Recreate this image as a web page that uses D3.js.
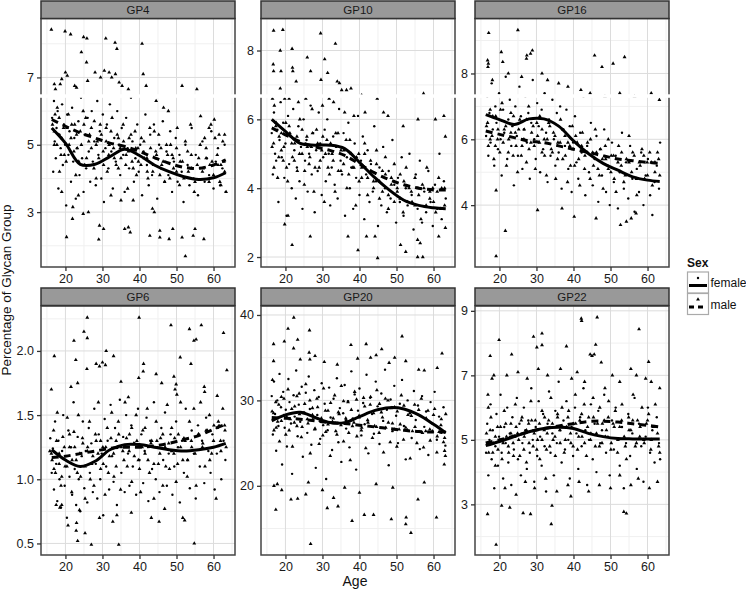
<!DOCTYPE html>
<html><head><meta charset="utf-8">
<script src="https://cdn.jsdelivr.net/npm/d3@7"></script>
<style>body{margin:0;background:#fff}svg{display:block}text{font-family:"Liberation Sans",Arial,sans-serif}</style>
</head><body><svg id="c" width="746" height="589"></svg>
<script>
// ---------- data ----------
const facets = ["GP4","GP10","GP16","GP6","GP20","GP22"];
const xTicks = [20,30,40,50,60];
const xMinor = [15,25,35,45,55,65];
const yTicks = {GP4:[3,5,7],GP10:[2,4,6,8],GP16:[4,6,8],GP6:[0.5,1.0,1.5,2.0],GP20:[20,30,40],GP22:[3,5,7,9]};
const yMinor = {GP4:[2,4,6,8],GP10:[3,5,7],GP16:[3,5,7,9],GP6:[0.75,1.25,1.75,2.25],GP20:[15,25,35],GP22:[2,4,6,8]};
const yFormat = {GP4:"d",GP10:"d",GP16:"d",GP6:".1f",GP20:"d",GP22:"d"};
const yDomain = {GP4:[1.37,8.75],GP10:[1.71,8.93],GP16:[2.12,9.67],GP6:[0.41,2.35],GP20:[11.9,41.05],GP22:[1.43,9.15]};
const xDomain = [13.4,65.8];

const smoothAges = [16.3,20,24,28,32,36,40,44,48,52,56,60,63.3];
const smoothFemale = {
 GP4:[5.5,5.05,4.42,4.42,4.65,4.87,4.68,4.4,4.2,4.05,3.97,4.02,4.17],
 GP10:[6.0,5.65,5.3,5.25,5.25,5.15,4.75,4.32,3.95,3.65,3.5,3.43,3.4],
 GP16:[6.75,6.6,6.45,6.62,6.62,6.4,5.95,5.57,5.27,5.06,4.86,4.76,4.72],
 GP6:[1.23,1.15,1.1,1.14,1.23,1.27,1.27,1.25,1.23,1.22,1.23,1.25,1.28],
 GP20:[27.6,28.3,28.6,28.0,27.4,27.4,28.1,28.8,29.15,29.0,28.3,27.2,26.2],
 GP22:[4.82,4.95,5.1,5.25,5.35,5.39,5.35,5.2,5.1,5.04,5.03,5.03,5.03]
};
const smoothMale = {
 GP4:[5.75,5.55,5.35,5.2,5.05,4.95,4.8,4.62,4.45,4.33,4.3,4.4,4.55],
 GP10:[5.75,5.55,5.35,5.2,5.1,4.95,4.7,4.45,4.25,4.1,4.0,3.95,3.95],
 GP16:[6.25,6.15,6.05,5.95,5.9,5.8,5.7,5.6,5.5,5.4,5.35,5.3,5.27],
 GP6:[1.17,1.18,1.2,1.22,1.24,1.25,1.25,1.26,1.28,1.31,1.34,1.39,1.43],
 GP20:[28.0,27.9,27.8,27.6,27.4,27.3,27.1,26.9,26.7,26.5,26.35,26.3,26.3],
 GP22:[4.9,5.0,5.12,5.25,5.35,5.43,5.5,5.57,5.58,5.55,5.5,5.45,5.4]
};

// points as flat [age, value, age, value, ...]
const gp4Female = [16.4,5.8,16.7,4.2,16.9,6.3,17.1,5.1,17.4,4.6,17.6,5.5,17.9,6.0,18.1,3.7,18.4,5.3,18.7,4.9,19.1,6.2,19.3,4.4,19.6,5.6,19.9,5.0,20.2,3.2,20.5,5.9,20.8,4.7,21.1,5.4,21.5,3.9,21.8,6.1,22.1,4.5,22.4,5.2,22.8,3.4,23.1,4.9,23.5,5.7,23.8,4.1,24.2,6.4,24.5,4.6,24.9,3.6,25.2,5.3,25.6,4.3,26.0,5.8,26.3,4.8,26.7,3.9,27.1,6.0,27.4,4.5,27.8,5.1,28.2,3.8,28.6,6.3,28.9,4.7,29.3,5.4,29.7,4.0,30.1,5.9,30.4,3.3,30.8,4.9,31.2,5.6,31.6,4.3,32.0,6.2,32.4,4.8,32.8,3.7,33.2,5.2,33.6,4.5,34.0,6.0,34.4,5.0,34.8,4.1,35.2,5.5,35.6,4.7,36.0,3.6,36.4,5.8,36.8,4.9,37.2,4.3,37.7,6.4,38.1,5.1,38.5,3.9,38.9,4.6,39.4,5.6,39.8,4.2,40.2,5.0,40.7,3.5,41.1,4.8,41.6,5.9,42.0,4.4,42.5,3.8,42.9,5.3,43.4,4.1,43.9,5.6,44.3,4.6,44.8,3.4,45.3,5.0,45.8,4.3,46.3,5.7,46.8,3.9,47.3,4.8,47.8,4.1,48.3,5.4,48.8,3.6,49.3,4.5,49.8,5.2,50.3,3.9,50.8,4.7,51.4,4.2,51.9,3.3,52.4,5.0,53.0,4.4,53.5,3.8,54.1,5.5,54.6,4.0,55.2,4.7,55.8,3.5,56.4,4.3,57.0,5.1,57.6,3.9,58.2,4.6,58.8,4.1,59.4,5.4,60.0,3.7,60.6,4.5,61.2,4.9,61.8,3.8,62.4,4.3,63.0,5.0,63.3,3.6];
const gp4Male = [16.2,8.42,19.9,8.37,21.4,8.28,24.9,8.2,25.8,8.16,30.9,8.16,33.4,8.03,33.9,7.85,40.7,8.0,24.3,7.75,25.7,7.45,20.0,7.15,20.5,7.05,19.0,6.95,17.0,6.8,17.3,6.65,18.6,6.8,22.5,6.75,23.0,6.7,26.0,6.9,28.0,7.15,29.5,7.0,30.5,7.2,31.8,7.15,32.5,7.0,33.5,7.1,34.5,6.85,35.3,6.75,37.0,6.65,41.0,7.1,41.8,6.75,51.5,6.75,55.5,6.65,44.5,6.3,46.5,6.1,47.8,6.0,56.5,5.85,60.2,5.75,58.8,5.5,61.5,5.3,63.0,5.3,62.5,5.1,20.3,2.26,21.9,2.8,29.0,2.19,29.2,2.6,30.3,2.5,36.0,2.5,37.0,2.55,37.5,2.4,42.8,2.3,45.5,2.45,45.5,2.25,48.0,2.2,52.4,1.69,51.5,2.25,57.4,2.2,54.5,2.3,55.0,2.5,49.0,2.5,43.5,3.1,44.0,3.0,38.3,3.35,35.0,3.35,32.3,3.5,26.2,3.0,24.8,2.95,22.0,3.15,19.0,3.6,23.5,3.5,16.5,5.6,17.2,5.9,17.8,6.1,18.2,5.3,18.8,4.7,19.5,5.5,20.8,5.9,21.5,5.2,22.5,5.6,23.2,4.9,24.0,5.4,24.8,6.0,25.5,5.8,26.5,5.3,27.0,4.9,27.8,5.7,28.6,5.1,29.4,5.6,30.2,4.8,31.0,5.5,31.8,5.0,32.6,5.8,33.2,4.6,34.0,5.3,34.8,4.9,35.6,5.6,36.4,4.7,37.2,5.2,38.0,4.5,38.8,5.4,39.6,4.9,40.4,4.4,41.2,5.1,42.0,4.6,42.8,5.5,43.6,4.2,44.4,4.8,45.2,5.3,46.0,4.4,46.8,3.9,47.6,4.7,48.4,5.0,49.2,4.3,50.0,4.9,50.8,3.8,51.6,4.5,52.4,5.1,53.2,4.2,54.0,4.7,54.8,3.6,55.6,4.4,56.4,5.0,57.2,4.3,58.0,4.6,58.8,3.9,59.6,4.5,60.4,5.2,61.2,4.4,62.0,3.8,62.8,4.5,63.4,3.6,61.7,3.9,59.3,5.6,57.6,5.2,53.8,5.6,50.2,5.5,48.8,4.7,45.8,4.9,44.0,5.4,42.3,4.0,39.2,4.1,36.8,3.7,34.3,4.3,31.3,4.2,28.3,4.0,25.2,4.4,22.8,4.1,20.2,4.5,18.4,4.2,17.0,5.0];
const gp4MaleCore = [17.0,5.4,17.7,5.0,18.3,5.8,19.0,5.2,19.7,4.7,20.4,5.5,21.0,5.0,21.7,5.6,22.3,4.8,23.0,5.3,23.6,4.5,24.3,5.0,25.0,5.6,25.7,4.6,26.3,5.1,27.0,5.5,27.7,4.3,28.3,5.0,29.0,4.6,29.7,5.3,30.3,4.4,31.0,5.1,31.7,4.7,32.3,5.4,33.0,4.9,33.7,4.4,34.3,5.2,35.0,4.6,35.7,5.1,36.3,4.4,37.0,4.8,37.7,5.3,38.3,4.3,39.0,4.9,39.7,4.5,40.5,5.2,41.3,4.6,42.1,4.2,43.0,4.9,43.8,4.4,44.6,4.7,45.5,4.1,46.4,4.5,47.3,5.0,48.2,4.0,49.1,4.6,50.0,4.2,51.0,4.5,52.0,4.0,53.0,4.8,54.0,4.3,55.0,3.9,56.0,4.6,57.0,4.2,58.0,4.9,59.0,4.4,60.0,4.1,61.0,4.7,62.0,4.4,63.0,4.2];
const gp10Female = [16.3,5.6,16.6,4.4,16.9,6.2,17.2,5.0,17.5,4.8,17.8,5.7,18.1,3.6,18.4,5.4,18.7,6.5,19.0,4.9,19.4,5.9,19.7,4.3,20.0,5.3,20.3,3.2,20.7,6.1,21.0,4.7,21.4,5.5,21.7,4.0,22.1,6.3,22.4,5.1,22.8,3.7,23.1,4.6,23.5,5.8,23.8,4.2,24.2,5.2,24.6,3.4,24.9,6.0,25.3,4.8,25.7,5.4,26.0,3.9,26.4,5.0,26.8,6.4,27.1,4.4,27.5,5.6,27.9,3.3,28.3,5.1,28.7,4.5,29.0,6.2,29.4,5.3,29.8,3.8,30.2,4.9,30.6,5.7,30.9,4.2,31.3,6.0,31.7,5.0,32.1,3.5,32.5,4.6,32.9,5.5,33.3,4.1,33.7,5.2,34.1,3.7,34.5,6.3,34.9,4.8,35.3,4.4,35.7,5.6,36.1,3.2,36.6,4.9,37.0,5.9,37.4,4.0,37.8,4.6,38.3,3.4,38.7,5.3,39.1,4.3,39.6,6.1,40.0,3.8,40.4,4.8,40.9,5.5,41.3,3.1,41.8,4.4,42.2,5.1,42.7,3.6,43.1,4.7,43.6,3.9,44.0,5.8,44.5,4.2,45.0,2.9,45.4,4.6,45.9,3.5,46.4,5.2,46.9,4.0,47.4,3.3,47.9,4.5,48.4,3.7,48.9,5.4,49.4,4.1,49.9,3.0,50.4,4.3,50.9,3.6,51.4,4.9,51.9,3.2,52.5,4.0,53.0,3.5,53.5,5.0,54.1,3.8,54.6,2.8,55.2,4.4,55.7,3.4,56.3,4.8,56.9,3.0,57.5,3.9,58.0,3.3,58.6,4.5,59.2,3.6,59.8,2.9,60.4,4.1,61.0,3.4,61.6,5.0,62.2,3.1,62.8,4.2,63.3,3.7];
const gp10Male = [16.8,8.58,19.3,8.6,18.6,8.0,21.8,8.05,29.5,8.5,33.5,8.2,16.7,7.6,16.8,7.4,18.8,7.4,21.9,7.5,22.0,7.4,25.9,7.8,26.8,7.4,30.6,7.75,31.4,7.35,29.6,7.15,22.9,7.1,34.0,7.1,34.6,7.05,35.2,6.85,36.5,6.85,37.7,6.9,18.6,6.9,40.6,6.7,57.3,6.75,16.5,6.6,17.0,6.4,19.8,6.6,21.0,6.6,23.5,6.5,25.5,6.6,27.2,6.3,30.0,6.4,31.8,6.6,33.0,6.5,36.0,6.2,38.5,6.1,41.5,6.2,44.8,6.6,46.5,6.2,47.7,6.1,51.8,5.8,55.8,6.0,60.5,6.0,62.8,6.1,63.2,5.5,21.8,2.35,19.8,2.95,20.7,3.2,26.7,2.6,36.9,2.6,39.6,2.2,44.9,1.97,41.9,2.6,44.2,2.6,51.1,2.35,52.5,2.15,55.7,2.5,56.4,2.4,55.7,2.0,57.1,2.0,61.4,2.6,63.2,2.85,16.4,5.2,16.9,4.6,17.4,5.8,17.9,4.3,18.3,5.5,18.9,5.1,19.4,4.8,20.1,5.9,20.6,4.2,21.2,5.6,21.9,4.9,22.5,5.3,23.2,4.5,23.9,6.0,24.5,5.0,25.1,4.1,25.8,5.5,26.4,4.7,27.0,5.2,27.7,3.9,28.4,5.7,29.1,4.6,29.8,5.1,30.5,3.6,31.2,5.4,31.9,4.4,32.6,5.0,33.4,3.9,34.2,5.6,35.0,4.5,35.8,5.1,36.6,4.0,37.4,5.4,38.2,4.6,39.0,3.5,39.8,5.0,40.6,4.3,41.4,5.3,42.2,3.8,43.0,4.8,43.8,4.2,44.6,5.1,45.4,3.7,46.2,4.5,47.0,4.9,47.8,3.4,48.6,4.3,49.4,4.7,50.2,3.9,51.0,4.4,51.8,3.3,52.6,4.6,53.4,4.0,54.2,3.6,55.0,4.3,55.8,4.0,56.6,3.1,57.4,4.0,58.2,4.6,59.0,3.7,59.8,4.0,60.6,3.3,61.4,4.3,62.2,4.0,63.0,3.5];
const gp10MaleCore = [16.8,5.3,17.5,5.9,18.2,4.9,18.9,5.6,19.6,5.2,20.3,4.6,21.0,5.8,21.7,5.3,22.4,4.8,23.1,5.5,23.8,5.0,24.5,5.7,25.2,4.5,25.9,5.2,26.6,4.9,27.3,5.6,28.0,4.6,28.7,5.3,29.4,4.8,30.1,5.5,30.8,5.0,31.5,4.6,32.2,5.3,32.9,4.8,33.6,5.6,34.3,4.5,35.0,5.1,35.7,4.7,36.4,5.4,37.1,4.4,37.8,5.0,38.5,4.6,39.2,4.9,39.9,4.2,40.6,4.6,41.4,5.0,42.2,4.3,43.0,4.5,43.8,4.0,44.6,4.7,45.4,4.2,46.2,3.9,47.0,4.4,47.8,3.8,48.6,4.1,49.4,3.6,50.2,4.0,51.0,3.7,52.0,4.2,53.0,3.6,54.0,3.9,55.0,3.5,56.0,3.8,57.0,4.1,58.0,3.5,59.0,3.9,60.0,3.6,61.0,3.9,62.0,3.4,63.0,4.0];
const gp16Female = [16.4,6.1,16.7,7.3,17.0,5.5,17.3,6.8,17.6,5.9,17.9,7.7,18.2,6.3,18.6,5.2,18.9,7.0,19.2,6.5,19.6,5.7,19.9,7.4,20.3,6.0,20.6,4.9,21.0,6.9,21.3,6.2,21.7,7.9,22.1,5.4,22.4,6.6,22.8,7.2,23.2,5.8,23.5,6.4,23.9,4.6,24.3,7.0,24.7,6.1,25.0,5.5,25.4,7.6,25.8,6.7,26.2,5.1,26.6,6.3,27.0,7.3,27.4,5.9,27.8,6.8,28.2,4.8,28.6,6.5,29.0,7.8,29.4,6.0,29.8,5.4,30.2,7.1,30.6,6.4,31.0,5.0,31.4,6.9,31.8,5.7,32.2,7.4,32.6,6.2,33.0,4.7,33.4,6.6,33.8,5.5,34.3,7.2,34.7,6.0,35.1,5.2,35.5,6.8,36.0,5.6,36.4,7.0,36.8,4.5,37.3,6.3,37.7,5.8,38.1,6.9,38.6,5.1,39.0,6.4,39.5,4.4,39.9,5.9,40.4,6.7,40.8,5.3,41.3,4.8,41.8,6.2,42.2,5.6,42.7,7.3,43.2,4.3,43.7,5.8,44.2,5.0,44.7,6.5,45.2,4.6,45.7,5.4,46.2,6.1,46.7,4.1,47.2,5.7,47.7,4.9,48.3,6.3,48.8,4.4,49.3,5.2,49.8,4.0,50.4,5.9,50.9,4.7,51.4,5.5,52.0,3.9,52.5,5.0,53.1,6.2,53.6,4.5,54.2,5.3,54.8,4.2,55.3,5.8,55.9,4.8,56.5,3.8,57.1,5.1,57.7,4.4,58.3,5.6,58.9,4.0,59.5,4.9,60.1,5.4,60.7,4.3,61.3,3.7,61.9,4.7,62.5,5.2,63.1,4.5,63.4,5.9];
const gp16Male = [17.1,9.23,24.98,9.32,27.4,8.55,27.3,8.45,28.9,8.7,28.4,8.6,20.5,8.65,20.9,8.35,45.7,8.55,50.7,8.3,47.7,8.2,53.8,8.5,16.8,8.4,17.0,8.3,16.9,8.2,18.1,7.8,22.4,8.0,26.0,7.9,31.5,8.0,33.0,7.8,36.0,7.7,38.5,7.6,42.0,7.5,44.5,7.4,48.5,7.3,52.5,7.4,56.5,7.3,61.0,7.4,63.2,7.2,21.6,3.22,19.1,2.45,52.7,3.4,46.1,3.6,40.2,3.65,54.3,3.5,55.6,3.6,56.9,3.75,30.3,3.85,36.9,3.9,19.1,4.45,16.5,6.4,17.0,5.8,17.5,6.9,18.0,6.1,18.5,5.4,19.0,6.7,19.5,6.0,20.1,5.6,20.7,7.1,21.3,6.3,21.9,5.2,22.5,6.0,23.1,6.8,23.7,5.5,24.3,6.2,24.9,5.0,25.5,6.6,26.1,5.8,26.7,6.3,27.3,5.3,27.9,7.0,28.5,5.9,29.1,6.4,29.7,5.1,30.3,6.1,30.9,6.7,31.5,5.6,32.1,6.0,32.7,4.9,33.3,6.5,34.0,5.7,34.6,6.2,35.2,4.8,35.8,5.9,36.5,6.6,37.1,5.4,37.7,6.1,38.4,4.7,39.0,5.8,39.7,6.4,40.3,5.2,41.0,5.9,41.7,4.6,42.4,6.2,43.1,5.5,43.8,5.9,44.5,4.8,45.2,5.6,45.9,6.3,46.6,5.1,47.3,5.7,48.0,4.5,48.7,5.4,49.4,6.0,50.1,5.0,50.8,5.5,51.5,4.4,52.2,5.8,52.9,5.2,53.6,4.7,54.3,5.4,55.0,6.1,55.7,5.0,56.4,5.5,57.1,4.3,57.8,5.3,58.5,5.7,59.2,4.8,59.9,5.3,60.6,5.6,61.3,4.6,62.0,5.3,62.7,5.6,63.3,4.9];
const gp16MaleCore = [16.8,6.5,17.5,6.0,18.2,6.7,18.9,5.8,19.6,6.3,20.3,6.9,21.0,5.9,21.7,6.4,22.4,5.6,23.1,6.2,23.8,6.7,24.5,5.8,25.2,6.3,25.9,5.5,26.6,6.0,27.3,6.6,28.0,5.7,28.7,6.2,29.4,5.8,30.1,6.5,30.8,5.9,31.5,6.3,32.2,5.5,32.9,6.0,33.6,6.4,34.3,5.6,35.0,6.1,35.7,5.4,36.4,5.9,37.1,6.3,37.8,5.5,38.5,5.9,39.2,5.2,39.9,5.7,40.6,6.1,41.4,5.4,42.2,5.8,43.0,5.1,43.8,5.6,44.6,6.0,45.4,5.2,46.2,5.6,47.0,4.9,47.8,5.4,48.6,5.8,49.4,5.1,50.2,5.5,51.0,4.8,52.0,5.3,53.0,5.6,54.0,4.9,55.0,5.3,56.0,5.6,57.0,4.8,58.0,5.2,59.0,5.5,60.0,4.9,61.0,5.3,62.0,5.0,63.0,5.4];
const gp6Female = [15.9,1.32,16.3,1.05,16.6,1.24,16.9,0.92,17.2,1.45,17.5,1.12,17.8,0.83,18.1,1.3,18.4,1.0,18.8,0.78,19.1,1.22,19.4,1.5,19.8,0.95,20.1,1.15,20.4,0.7,20.8,1.38,21.1,1.02,21.5,1.25,21.8,0.88,22.2,1.6,22.5,1.08,22.9,0.8,23.3,1.33,23.6,1.0,24.0,0.75,24.4,1.18,24.7,1.45,25.1,0.93,25.5,1.22,25.9,0.82,26.3,1.4,26.6,1.05,27.0,1.28,27.4,0.9,27.8,1.55,28.2,1.12,28.6,0.85,29.0,1.35,29.4,1.0,29.8,1.2,30.2,0.72,30.6,1.47,31.0,1.1,31.4,1.3,31.8,0.92,32.2,1.58,32.6,1.18,33.0,0.98,33.4,1.4,33.9,0.8,34.3,1.25,34.7,1.62,35.1,1.05,35.6,1.33,36.0,0.9,36.4,1.5,36.9,1.2,37.3,0.95,37.8,1.42,38.2,1.1,38.7,1.28,39.1,0.88,39.6,1.55,40.0,1.15,40.5,1.35,41.0,0.97,41.4,1.22,41.9,1.48,42.4,0.83,42.9,1.3,43.4,1.08,43.9,1.6,44.4,1.0,44.9,1.25,45.4,0.9,45.9,1.4,46.4,1.15,46.9,1.52,47.4,0.95,47.9,1.2,48.4,1.35,48.9,0.88,49.4,1.1,49.9,1.45,50.4,1.25,50.9,0.82,51.5,1.3,52.0,1.05,52.5,1.55,53.0,1.15,53.6,0.93,54.1,1.38,54.7,1.2,55.2,0.85,55.8,1.42,56.3,1.1,56.9,1.3,57.5,0.97,58.0,1.48,58.6,1.22,59.2,1.05,59.7,1.35,60.3,0.92,60.9,1.2,61.5,1.42,62.1,1.0,62.7,1.3,63.2,1.15];
const gp6Male = [25.9,2.26,39.9,2.26,22.3,2.08,25.0,2.15,25.9,2.1,17.0,1.96,22.8,1.93,31.0,2.0,33.0,1.96,28.3,1.9,29.2,1.88,30.0,1.91,30.8,1.89,25.8,1.86,48.5,2.2,53.5,2.17,54.7,2.08,55.3,2.09,56.7,2.2,62.7,2.14,63.6,1.85,51.0,1.95,41.1,1.9,41.0,1.84,39.8,1.79,49.3,1.8,49.9,1.74,49.6,1.7,50.1,1.66,53.9,1.9,57.5,1.72,57.6,1.68,16.2,1.7,21.5,1.72,23.3,1.75,35.0,1.76,37.0,1.64,44.5,1.82,46.0,1.75,61.0,1.65,23.3,0.52,27.0,0.49,34.4,0.49,54.8,0.5,22.9,0.6,23.0,0.66,20.7,0.64,23.8,0.76,25.3,0.58,29.2,0.7,32.8,0.67,33.9,0.72,37.8,0.74,43.2,0.7,45.3,0.67,51.7,0.7,52.2,0.68,46.8,0.77,17.5,0.8,18.5,0.78,19.0,0.8,15.8,1.22,16.4,1.15,16.8,1.38,17.3,1.05,17.8,1.52,18.3,1.2,18.8,0.95,19.3,1.33,19.9,1.1,20.5,1.48,21.1,1.25,21.7,0.9,22.3,1.37,22.9,1.15,23.5,1.5,24.1,1.02,24.7,1.28,25.3,0.85,25.9,1.22,26.5,1.45,27.1,1.12,27.7,0.95,28.3,1.3,28.9,1.6,29.5,1.08,30.1,1.25,30.7,0.88,31.3,1.4,31.9,1.18,32.5,1.52,33.1,1.02,33.7,1.3,34.3,1.45,34.9,0.92,35.5,1.22,36.1,1.6,36.7,1.1,37.3,1.35,37.9,0.98,38.5,1.28,39.1,1.5,39.7,1.15,40.3,0.9,40.9,1.38,41.5,1.2,42.1,1.55,42.7,1.05,43.3,1.3,43.9,0.85,44.5,1.45,45.1,1.12,45.7,1.32,46.3,0.95,46.9,1.25,47.5,1.58,48.1,1.08,48.7,1.4,49.3,1.2,49.9,0.98,50.5,1.35,51.1,1.6,51.7,1.15,52.3,1.3,52.9,1.02,53.5,1.45,54.1,1.25,54.7,1.55,55.3,0.95,55.9,1.35,56.5,1.6,57.1,1.28,57.7,1.1,58.3,1.38,58.9,1.5,59.5,1.2,60.1,1.42,60.7,0.85,61.3,1.45,61.9,1.3,62.5,1.55,63.1,1.38,63.4,1.25];
const gp6MaleCore = [16.2,1.2,16.9,1.08,17.6,1.3,18.3,1.12,19.0,1.02,19.7,1.25,20.4,1.1,21.1,1.35,21.8,1.15,22.5,1.25,23.2,1.05,23.9,1.2,24.6,1.32,25.3,1.1,26.0,1.25,26.7,1.0,27.4,1.18,28.1,1.35,28.8,1.2,29.5,1.3,30.2,1.12,30.9,1.25,31.6,1.05,32.3,1.32,33.0,1.2,33.7,1.1,34.4,1.35,35.1,1.25,35.8,1.15,36.5,1.32,37.2,1.22,37.9,1.4,38.6,1.18,39.3,1.3,40.0,1.08,40.7,1.25,41.5,1.4,42.3,1.15,43.1,1.28,43.9,1.12,44.7,1.3,45.5,1.2,46.3,1.35,47.1,1.1,47.9,1.28,48.7,1.22,49.5,1.32,50.3,1.12,51.1,1.25,52.0,1.32,53.0,1.15,54.0,1.3,55.0,1.2,56.0,1.35,57.0,1.25,58.0,1.38,59.0,1.15,60.0,1.3,61.0,1.4,62.0,1.22,63.0,1.42];
const gp20Female = [16.3,30.5,16.6,26.0,16.9,32.2,17.2,28.4,17.5,24.1,17.8,30.0,18.1,27.0,18.4,33.1,18.8,29.2,19.1,22.5,19.4,31.0,19.8,26.8,20.1,28.9,20.4,24.6,20.8,32.5,21.1,29.8,21.5,27.3,21.8,21.4,22.2,30.6,22.5,28.1,22.9,33.5,23.3,25.8,23.6,29.5,24.0,27.5,24.4,31.6,24.7,23.4,25.1,28.6,25.5,30.9,25.9,26.2,26.3,32.8,26.6,29.0,27.0,24.8,27.4,27.8,27.8,31.2,28.2,22.1,28.6,28.3,29.0,30.4,29.4,25.5,29.8,32.0,30.2,27.1,30.6,29.6,31.0,20.8,31.4,26.5,31.8,31.5,32.2,28.0,32.6,24.2,33.0,30.2,33.4,27.4,33.9,32.6,34.3,25.1,34.7,29.1,35.1,22.8,35.6,28.5,36.0,31.8,36.4,26.7,36.9,29.9,37.3,24.5,37.8,33.4,38.2,27.9,38.7,30.7,39.1,21.9,39.6,28.8,40.0,31.4,40.5,25.9,41.0,29.7,41.4,27.2,41.9,33.0,42.4,23.8,42.9,30.3,43.4,28.4,43.9,26.1,44.4,32.2,44.9,29.3,45.4,24.9,45.9,30.8,46.4,27.6,46.9,33.6,47.4,28.9,47.9,22.4,48.4,30.1,48.9,26.4,49.4,31.7,49.9,28.2,50.4,25.0,50.9,29.6,51.5,32.4,52.0,27.0,52.5,23.1,53.0,30.0,53.6,28.5,54.1,25.6,54.7,31.1,55.2,27.7,55.8,29.4,56.3,24.3,56.9,30.5,57.5,26.9,58.0,28.7,58.6,23.6,59.2,29.8,59.7,27.3,60.3,31.0,60.9,25.4,61.5,28.1,62.1,26.2,62.7,29.2,63.2,24.7];
const gp20Male = [22.25,39.7,20.7,38.4,26.5,38.2,23.3,37.1,22.2,36.1,19.7,36.9,16.8,36.6,51.5,37.5,41.8,36.6,37.7,36.5,46.0,36.0,62.3,35.5,16.8,34.6,16.5,32.4,26.4,35.6,26.6,34.8,24.0,34.8,28.0,35.2,30.5,34.5,34.0,34.2,39.5,34.9,43.0,35.0,44.5,35.3,48.0,34.4,49.5,35.0,52.5,34.6,56.0,33.6,57.5,33.5,61.0,33.8,26.8,13.2,53.9,14.5,52.5,15.5,52.6,16.3,48.6,16.1,38.0,15.9,41.3,16.6,43.8,16.6,60.8,16.3,17.4,17.2,21.5,18.4,23.3,18.5,31.3,17.4,34.2,17.6,55.8,18.4,62.9,22.5,63.2,23.5,63.0,24.1,17.8,20.2,16.9,20.0,19.0,19.5,25.5,19.0,26.2,20.4,30.0,19.5,33.0,18.6,36.0,19.8,40.0,19.2,44.5,20.2,49.0,19.8,57.5,20.4,16.4,28.7,16.9,26.5,17.4,29.8,17.9,27.5,18.4,25.2,18.9,30.4,19.5,28.2,20.1,26.0,20.7,31.3,21.3,27.8,21.9,24.6,22.5,29.3,23.1,27.0,23.7,30.8,24.3,25.7,24.9,28.5,25.5,31.9,26.1,27.3,26.7,23.8,27.3,29.1,27.9,26.6,28.5,30.2,29.1,24.9,29.7,27.9,30.3,31.4,30.9,26.3,31.5,28.8,32.1,23.5,32.7,27.5,33.3,30.6,33.9,26.0,34.5,28.4,35.1,31.7,35.7,25.2,36.3,27.9,36.9,29.8,37.5,23.0,38.1,27.0,38.7,31.0,39.3,25.8,39.9,28.2,40.5,26.5,41.1,30.3,41.7,24.4,42.3,27.4,42.9,29.5,43.5,25.6,44.1,27.0,44.7,31.2,45.3,26.2,45.9,28.6,46.5,23.9,47.1,26.8,47.7,30.0,48.3,25.1,48.9,27.3,49.5,29.2,50.1,24.6,50.7,26.6,51.3,30.6,51.9,25.4,52.5,26.8,53.1,28.3,53.7,23.2,54.3,26.4,54.9,29.5,55.5,25.0,56.1,26.3,56.7,30.2,57.3,24.5,57.9,26.4,58.5,28.8,59.1,25.3,59.7,26.4,60.3,29.0,60.9,23.9,61.5,26.3,62.1,27.8,62.7,25.1,63.3,28.4];
const gp20MaleCore = [16.8,28.5,17.5,26.8,18.2,29.5,18.9,27.6,19.6,30.2,20.3,28.1,21.0,26.5,21.7,29.0,22.4,27.4,23.1,30.5,23.8,28.4,24.5,26.9,25.2,29.6,25.9,27.8,26.6,30.0,27.3,28.3,28.0,26.7,28.7,29.2,29.4,27.6,30.1,25.9,30.8,28.8,31.5,27.2,32.2,29.7,32.9,27.9,33.6,26.4,34.3,28.6,35.0,27.1,35.7,29.9,36.4,27.7,37.1,26.2,37.8,28.9,38.5,27.4,39.2,30.1,39.9,28.0,40.6,26.8,41.4,29.3,42.2,27.7,43.0,30.4,43.8,28.5,44.6,26.9,45.4,29.6,46.2,28.0,47.0,30.2,47.8,27.4,48.6,29.1,49.4,26.6,50.2,28.7,51.0,27.2,52.0,29.4,53.0,26.5,54.0,28.2,55.0,26.9,56.0,28.9,57.0,26.2,58.0,27.9,59.0,26.6,60.0,28.3,61.0,25.8,62.0,27.1,63.0,25.6];
const gp22Female = [16.4,4.6,16.7,5.5,17.0,3.9,17.3,5.0,17.6,6.1,17.9,4.4,18.2,5.3,18.6,3.5,18.9,4.8,19.2,5.8,19.6,4.2,19.9,5.1,20.3,6.4,20.6,4.6,21.0,3.8,21.3,5.4,21.7,4.9,22.1,6.0,22.4,4.3,22.8,5.2,23.2,3.6,23.5,5.7,23.9,4.7,24.3,5.1,24.7,6.3,25.0,4.4,25.4,5.5,25.8,3.9,26.2,4.9,26.6,6.0,27.0,5.3,27.4,4.1,27.8,5.6,28.2,4.6,28.6,6.6,29.0,5.0,29.4,3.7,29.8,5.4,30.2,4.5,30.6,6.2,31.0,5.1,31.4,4.2,31.8,5.8,32.2,4.8,32.6,3.4,33.0,5.5,33.4,6.5,33.8,4.6,34.3,5.2,34.7,3.9,35.1,5.9,35.5,4.9,36.0,6.8,36.4,5.3,36.8,4.3,37.3,5.6,37.7,4.7,38.1,6.2,38.6,5.0,39.0,3.8,39.5,5.4,39.9,4.5,40.4,6.0,40.8,5.2,41.3,4.1,41.8,5.7,42.2,4.8,42.7,6.6,43.2,5.3,43.7,3.6,44.2,5.0,44.7,6.1,45.2,4.4,45.7,5.5,46.2,4.0,46.7,5.9,47.2,4.9,47.7,5.3,48.3,6.4,48.8,4.6,49.3,5.1,49.8,3.9,50.4,5.6,50.9,4.7,51.4,6.0,52.0,5.0,52.5,4.2,53.1,5.4,53.6,3.5,54.2,4.9,54.8,5.8,55.3,4.5,55.9,5.2,56.5,6.3,57.1,4.1,57.7,5.5,58.3,4.8,58.9,3.7,59.5,5.1,60.1,6.0,60.7,4.6,61.3,5.3,61.9,4.3,62.5,5.7,63.1,4.9,63.4,4.4];
const gp22Male = [42.1,8.76,42.2,8.69,46.4,8.8,57.7,8.43,31.5,8.3,30.1,7.87,31.5,7.94,29.2,8.2,38.1,7.9,46.0,7.95,45.0,7.6,47.5,7.4,44.5,7.65,45.6,7.65,60.3,7.42,19.9,8.1,23.3,7.65,17.5,7.6,18.0,6.9,18.5,7.0,16.9,6.4,17.0,6.0,34.0,2.39,53.6,2.77,54.3,2.72,19.1,1.75,26.4,2.73,28.4,2.7,39.3,3.25,34.2,2.96,22.8,2.9,20.6,2.96,44.1,3.4,16.8,2.7,22.0,7.0,25.0,7.1,27.5,6.9,30.5,7.2,33.0,7.0,36.5,7.2,39.5,6.9,41.0,7.1,43.0,6.8,48.5,6.6,50.5,7.0,52.5,6.8,55.5,7.2,57.0,7.0,59.5,6.9,61.0,6.8,63.3,6.6,21.5,3.5,24.5,3.3,27.0,3.7,29.5,3.5,32.5,3.8,35.5,3.4,38.5,3.6,41.5,3.7,47.0,3.6,50.0,3.5,52.5,3.9,55.5,3.6,57.5,3.8,60.5,3.5,62.7,3.7,16.5,5.2,17.1,4.6,17.7,5.7,18.3,4.9,18.9,4.2,19.5,5.4,20.1,5.0,20.7,4.4,21.3,5.9,21.9,5.1,22.5,4.6,23.1,5.5,23.7,4.9,24.3,6.1,24.9,5.2,25.5,4.5,26.1,5.7,26.7,5.1,27.3,4.3,27.9,5.5,28.5,6.2,29.1,4.8,29.7,5.6,30.3,5.0,30.9,4.4,31.5,5.9,32.1,5.3,32.7,4.7,33.3,5.6,33.9,6.3,34.5,5.0,35.1,4.5,35.7,5.8,36.3,5.3,36.9,6.0,37.5,4.6,38.1,5.4,38.7,5.9,39.3,4.9,39.9,5.5,40.5,6.4,41.1,4.7,41.7,5.6,42.3,5.1,42.9,6.1,43.5,4.5,44.1,5.7,44.7,5.2,45.3,6.3,45.9,4.8,46.5,5.5,47.1,6.0,47.7,4.9,48.3,5.6,48.9,5.3,49.5,6.2,50.1,4.7,50.7,5.5,51.3,5.9,51.9,4.6,52.5,5.4,53.1,6.1,53.7,5.1,54.3,4.4,54.9,5.7,55.5,5.3,56.1,6.4,56.7,4.8,57.3,5.6,57.9,5.1,58.5,6.0,59.1,4.9,59.7,5.5,60.3,5.8,60.9,4.7,61.5,5.4,62.1,6.1,62.7,5.2,63.3,4.6];
const gp22MaleCore = [16.8,4.9,17.5,5.3,18.2,4.6,18.9,5.1,19.6,4.7,20.3,5.4,21.0,4.9,21.7,5.5,22.4,4.8,23.1,5.2,23.8,4.5,24.5,5.4,25.2,5.0,25.9,5.6,26.6,4.7,27.3,5.3,28.0,4.9,28.7,5.6,29.4,5.2,30.1,4.7,30.8,5.5,31.5,5.0,32.2,5.7,32.9,5.2,33.6,4.8,34.3,5.5,35.0,5.1,35.7,5.7,36.4,4.9,37.1,5.4,37.8,5.0,38.5,5.7,39.2,5.2,39.9,4.8,40.6,5.5,41.4,5.1,42.2,5.8,43.0,4.9,43.8,5.4,44.6,5.0,45.4,5.7,46.2,5.2,47.0,4.8,47.8,5.5,48.6,5.1,49.4,5.7,50.2,4.9,51.0,5.4,52.0,5.0,53.0,5.6,54.0,4.8,55.0,5.3,56.0,5.6,57.0,4.9,58.0,5.4,59.0,5.0,60.0,5.6,61.0,5.0,62.0,5.4,63.0,4.8];
const pointsFemale = {GP4:gp4Female,GP10:gp10Female,GP16:gp16Female,GP6:gp6Female,GP20:gp20Female,GP22:gp22Female};
const pointsMale = {GP4:gp4Male.concat(gp4MaleCore),GP10:gp10Male.concat(gp10MaleCore),GP16:gp16Male.concat(gp16MaleCore),
  GP6:gp6Male.concat(gp6MaleCore),GP20:gp20Male.concat(gp20MaleCore),GP22:gp22Male.concat(gp22MaleCore)};
const legendLabels = ["female","male"];

// ---------- layout ----------
const svg = d3.select("#c");
const colX = [41,261,475], panelW = 194;
const stripTop = [1,288], stripH = 17.5, panelTop = [18.5,306], panelBot = [267,555];
const pairs = a => d3.range(0,a.length,2).map(i=>[a[i],a[i+1]]);

facets.forEach((f,i)=>{
  const r = Math.floor(i/3), c = i%3;
  const x = d3.scaleLinear().domain(xDomain).range([colX[c], colX[c]+panelW]);
  const y = d3.scaleLinear().domain(yDomain[f]).range([panelBot[r], panelTop[r]]);
  const g = svg.append("g");
  const clipId = "clip"+i;
  svg.append("clipPath").attr("id",clipId).append("rect")
    .attr("x",colX[c]).attr("y",panelTop[r]).attr("width",panelW).attr("height",panelBot[r]-panelTop[r]);
  g.append("rect").attr("x",colX[c]).attr("y",panelTop[r]).attr("width",panelW).attr("height",panelBot[r]-panelTop[r]).attr("fill","#fff");
  const grid = g.append("g").attr("clip-path",`url(#${clipId})`);
  xMinor.forEach(v=>grid.append("line").attr("x1",x(v)).attr("x2",x(v)).attr("y1",panelTop[r]).attr("y2",panelBot[r]).attr("stroke","#f0f0f0").attr("stroke-width",1));
  yMinor[f].forEach(v=>grid.append("line").attr("y1",y(v)).attr("y2",y(v)).attr("x1",colX[c]).attr("x2",colX[c]+panelW).attr("stroke","#f0f0f0").attr("stroke-width",1));
  xTicks.forEach(v=>grid.append("line").attr("x1",x(v)).attr("x2",x(v)).attr("y1",panelTop[r]).attr("y2",panelBot[r]).attr("stroke","#dcdcdc").attr("stroke-width",1));
  yTicks[f].forEach(v=>grid.append("line").attr("y1",y(v)).attr("y2",y(v)).attr("x1",colX[c]).attr("x2",colX[c]+panelW).attr("stroke","#dcdcdc").attr("stroke-width",1));

  const pg = g.append("g").attr("clip-path",`url(#${clipId})`);
  pg.selectAll("circle").data(pairs(pointsFemale[f])).enter().append("circle")
    .attr("cx",d=>x(d[0])).attr("cy",d=>y(d[1])).attr("r",1.2).attr("fill","#000");
  const tri = d3.symbol().type(d3.symbolTriangle).size(6.5);
  pg.selectAll("path.t").data(pairs(pointsMale[f])).enter().append("path").attr("class","t")
    .attr("transform",d=>`translate(${x(d[0])},${y(d[1])})`).attr("d",tri).attr("fill","#000");

  const line = d3.line().x(d=>x(d[0])).y(d=>y(d[1])).curve(d3.curveCatmullRom.alpha(0.5));
  pg.append("path").attr("d",line(smoothAges.map((a,k)=>[a,smoothMale[f][k]])))
    .attr("fill","none").attr("stroke","#000").attr("stroke-width",3).attr("stroke-dasharray","7,5");
  pg.append("path").attr("d",line(smoothAges.map((a,k)=>[a,smoothFemale[f][k]])))
    .attr("fill","none").attr("stroke","#000").attr("stroke-width",3);

  g.append("rect").attr("x",colX[c]).attr("y",panelTop[r]).attr("width",panelW).attr("height",panelBot[r]-panelTop[r])
    .attr("fill","none").attr("stroke","#444").attr("stroke-width",1.5);
  g.append("rect").attr("x",colX[c]).attr("y",stripTop[r]).attr("width",panelW).attr("height",stripH)
    .attr("fill","#999").attr("stroke","#333").attr("stroke-width",1.5);
  g.append("text").attr("x",colX[c]+panelW/2).attr("y",stripTop[r]+stripH/2+4).attr("text-anchor","middle")
    .attr("font-size",11.5).attr("fill","#1a1a1a").text(f);

  const xa = g.append("g").attr("transform",`translate(0,${panelBot[r]})`)
    .call(d3.axisBottom(x).tickValues(xTicks).tickSize(4).tickPadding(3).tickFormat(d3.format("d")));
  const ya = g.append("g").attr("transform",`translate(${colX[c]},0)`)
    .call(d3.axisLeft(y).tickValues(yTicks[f]).tickSize(4).tickPadding(3).tickFormat(d3.format(yFormat[f])));
  [xa,ya].forEach(a=>{
    a.select(".domain").remove();
    a.selectAll(".tick line").attr("stroke","#333").attr("stroke-width",1.3);
    a.selectAll(".tick text").attr("font-size",12.5).attr("fill","#1a1a1a");
  });
});

// rendering artefact band present in reference
svg.append("rect").attr("x",0).attr("y",94.3).attr("width",672).attr("height",3.5).attr("fill","#fff");

svg.append("text").attr("transform","translate(11,290) rotate(-90)").attr("text-anchor","middle")
  .attr("font-size",13.5).attr("fill","#111").text("Percentage of Glycan Group");
svg.append("text").attr("x",355).attr("y",586).attr("text-anchor","middle")
  .attr("font-size",14).attr("fill","#111").text("Age");

// legend
const lg = svg.append("g");
lg.append("text").attr("x",687).attr("y",267).attr("font-size",12).attr("font-weight","bold").attr("fill","#111").text("Sex");
legendLabels.forEach((lab,k)=>{
  const by = 272 + k*21.5;
  lg.append("rect").attr("x",687.5).attr("y",by).attr("width",21).attr("height",21).attr("fill","#fff").attr("stroke","#aaa").attr("stroke-width",1.2);
  if(k===0){
    lg.append("circle").attr("cx",698).attr("cy",by+6).attr("r",1.2).attr("fill","#000");
    lg.append("line").attr("x1",689).attr("x2",707).attr("y1",by+13.5).attr("y2",by+13.5).attr("stroke","#000").attr("stroke-width",3);
  } else {
    lg.append("path").attr("transform",`translate(698,${by+6})`).attr("d",d3.symbol().type(d3.symbolTriangle).size(6.5)).attr("fill","#000");
    lg.append("line").attr("x1",689).attr("x2",707).attr("y1",by+13.5).attr("y2",by+13.5).attr("stroke","#000").attr("stroke-width",3).attr("stroke-dasharray","5,4");
  }
  lg.append("text").attr("x",710.5).attr("y",by+15).attr("font-size",12).attr("fill","#111").text(lab);
});
</script></body></html>
